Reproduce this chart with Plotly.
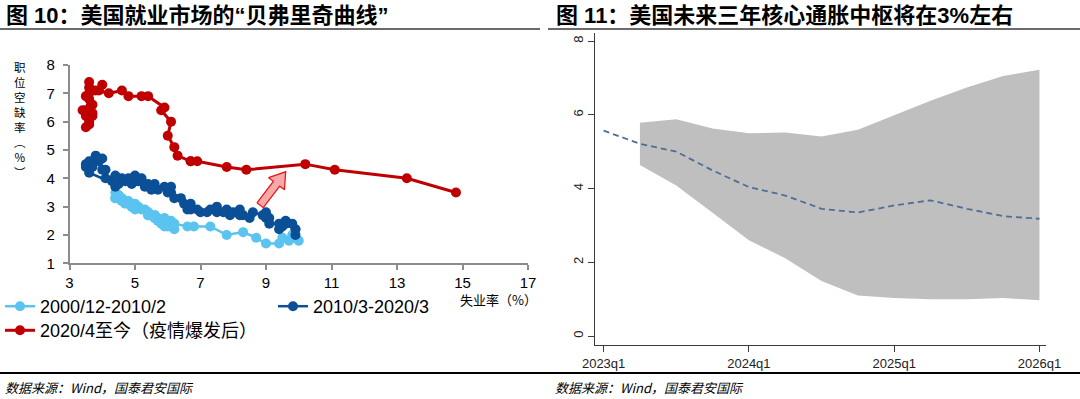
import math
import plotly.graph_objects as go

# ---------------- Left panel: Beveridge curve (unemployment %, job-openings rate %) ----------------
light_name = "2000/12-2010/2"
light_u = [4.4, 4.4, 4.5, 4.6, 4.8, 4.9, 5.0, 5.3, 5.4, 5.6, 5.7, 5.8, 5.9, 5.8, 5.7, 5.9, 6.0, 5.9,
           6.1, 6.2, 6.1, 6.0, 5.8, 5.7, 5.6, 5.6, 5.4, 5.4, 5.2, 5.1, 5.0, 4.9, 4.7, 4.6, 4.5, 4.4,
           4.6, 4.7, 4.9, 5.0, 5.4, 5.6, 5.8, 6.1, 6.2, 6.6, 6.8, 7.3, 7.8, 8.3, 8.7, 9.0, 9.4, 9.5,
           9.8, 9.9, 10.0, 9.7, 9.8]
light_v = [3.5, 3.3, 3.4, 3.2, 3.2, 3.0, 3.1, 2.9, 2.8, 2.7, 2.6, 2.5, 2.6, 2.4, 2.5, 2.3, 2.4, 2.4,
           2.3, 2.2, 2.4, 2.3, 2.5, 2.5, 2.6, 2.7, 2.7, 2.8, 2.9, 3.0, 3.0, 3.1, 3.2, 3.3, 3.4, 3.3,
           3.2, 3.1, 3.0, 2.9, 2.7, 2.6, 2.5, 2.5, 2.4, 2.3, 2.3, 2.3, 2.0, 2.1, 1.9, 1.7, 1.7, 1.9,
           1.9, 2.2, 1.8, 1.8, 2.0]

dark_name = "2010/3-2020/3"
dark_u = [9.9, 9.9, 9.6, 9.4, 9.5, 9.5, 9.6, 9.8, 9.4, 9.1, 9.0, 9.0, 9.1, 8.9, 8.6, 8.5, 8.3, 8.2,
          8.2, 8.0, 7.9, 7.8, 7.7, 7.5, 7.5, 7.3, 7.2, 7.0, 6.9, 6.7, 6.7, 6.6, 6.5, 6.4, 6.2, 6.1,
          6.1, 6.0, 5.9, 5.7, 5.6, 5.5, 5.4, 5.3, 5.2, 5.1, 5.0, 5.0, 4.9, 4.8, 4.7, 4.6, 4.5, 4.4,
          4.4, 4.3, 4.4, 4.1, 4.1, 4.0, 3.9, 4.0, 3.8, 3.8, 3.7, 3.6, 3.7, 3.5, 3.6, 3.5, 3.6, 4.4]
dark_v = [2.0, 2.2, 2.4, 2.2, 2.4, 2.3, 2.5, 2.4, 2.4, 2.4, 2.6, 2.8, 2.6, 2.7, 2.8, 2.6, 2.7, 2.9,
          2.7, 2.8, 2.7, 2.9, 2.8, 3.0, 2.8, 2.9, 2.8, 2.8, 2.9, 2.9, 3.1, 2.9, 3.1, 3.3, 3.3, 3.5,
          3.7, 3.5, 3.7, 3.6, 3.8, 3.6, 3.8, 3.7, 4.0, 3.9, 4.1, 3.9, 3.8, 4.0, 3.9, 4.0, 3.8, 4.0,
          3.7, 3.9, 4.1, 4.0, 4.3, 4.3, 4.6, 4.7, 4.8, 4.7, 4.6, 4.5, 4.4, 4.5, 4.6, 4.4, 4.2, 3.8]

red_name = "2020/4至今（疫情爆发后）"
red_u = [14.8, 13.3, 11.1, 10.2, 8.4, 7.8, 6.9, 6.7, 6.7, 6.3, 6.2, 6.0, 6.1, 5.8, 5.9, 5.4, 5.2,
         4.8, 4.6, 4.2, 3.9, 4.0, 3.8, 3.6, 3.6, 3.6, 3.5, 3.7, 3.6, 3.5, 3.5, 3.4, 3.6, 3.7, 3.6,
         3.5, 3.6, 3.7, 3.6]
red_v = [3.5, 4.0, 4.3, 4.5, 4.3, 4.4, 4.6, 4.6, 4.6, 4.8, 5.1, 5.5, 6.0, 6.4, 6.5, 6.9, 6.9,
         6.9, 7.1, 7.0, 7.1, 7.3, 7.1, 7.4, 7.2, 7.0, 6.9, 6.6, 6.8, 6.4, 6.2, 6.4, 6.1, 6.3, 6.0,
         5.8, 5.9, 6.2, 6.3]

x_ticks_left = [3, 5, 7, 9, 11, 13, 15, 17]
y_ticks_left = [1, 2, 3, 4, 5, 6, 7, 8]

# arrow (data units of left panel)
ARROW_FROM = (8.82, 3.05)
ARROW_TO = (9.60, 4.23)

# ---------------- Right panel: core inflation forecast fan ----------------
quarter_labels = ["2023q1", "2023q2", "2023q3", "2023q4", "2024q1", "2024q2", "2024q3", "2024q4",
                  "2025q1", "2025q2", "2025q3", "2025q4", "2026q1"]
median_path = [5.57, 5.21, 5.00, 4.49, 4.04, 3.81, 3.45, 3.35, 3.54, 3.68, 3.45, 3.25, 3.18]
band_quarters = quarter_labels[1:]
band_upper = [5.78, 5.88, 5.63, 5.50, 5.52, 5.41, 5.59, 5.99, 6.38, 6.74, 7.05, 7.22]
band_lower = [4.64, 4.08, 3.34, 2.60, 2.11, 1.49, 1.10, 1.03, 1.00, 1.00, 1.03, 0.97]
x_ticks_right = ["2023q1", "2024q1", "2025q1", "2026q1"]
y_ticks_right = [0, 2, 4, 6, 8]

# ---------------- styling ----------------
W, H = 1080, 399
LIGHT = "#5BC3F0"
DARK = "#0B4F96"
RED = "#C00000"
AXIS_GREY = "#8c8c8c"
LATIN = "Liberation Sans, Arial, Noto Sans CJK SC"
CJK = "Noto Sans CJK SC, Liberation Sans"

L_X0, L_X1 = 69.5, 528.0      # left plot pixel extents
L_Y0, L_Y1 = 65.0, 263.3
R_X0, R_X1 = 595.0, 1046.0
R_Y0, R_Y1 = 33.4, 345.0

def px(v):
    return v / W

def py(v):
    return 1 - v / H

qidx = {q: i for i, q in enumerate(quarter_labels)}

fig = go.Figure()

fig.add_trace(go.Scatter(x=light_u, y=light_v, name=light_name, mode="lines+markers",
                         line=dict(color=LIGHT, width=2.5), marker=dict(color=LIGHT, size=10),
                         xaxis="x", yaxis="y", legend="legend"))
fig.add_trace(go.Scatter(x=dark_u, y=dark_v, name=dark_name, mode="lines+markers",
                         line=dict(color=DARK, width=2.5), marker=dict(color=DARK, size=10),
                         xaxis="x", yaxis="y", legend="legend"))
fig.add_trace(go.Scatter(x=red_u, y=red_v, name=red_name, mode="lines+markers",
                         line=dict(color=RED, width=3), marker=dict(color=RED, size=10),
                         xaxis="x", yaxis="y", legend="legend2"))

# block arrow polygon built in screen-proportional space
sx = (L_X1 - L_X0) / (x_ticks_left[-1] - x_ticks_left[0])
sy = (L_Y1 - L_Y0) / (y_ticks_left[-1] - y_ticks_left[0])
p0 = (ARROW_FROM[0] * sx, ARROW_FROM[1] * sy)
p1 = (ARROW_TO[0] * sx, ARROW_TO[1] * sy)
dx, dy = p1[0] - p0[0], p1[1] - p0[1]
Ln = math.hypot(dx, dy)
ex, ey = dx / Ln, dy / Ln
nx, ny = -ey, ex
shaft, head_w, head_l = 4.0, 10.0, 15.0
pts = [
    (p0[0] + nx * shaft, p0[1] + ny * shaft),
    (p0[0] + ex * (Ln - head_l) + nx * shaft, p0[1] + ey * (Ln - head_l) + ny * shaft),
    (p0[0] + ex * (Ln - head_l) + nx * head_w, p0[1] + ey * (Ln - head_l) + ny * head_w),
    p1,
    (p0[0] + ex * (Ln - head_l) - nx * head_w, p0[1] + ey * (Ln - head_l) - ny * head_w),
    (p0[0] + ex * (Ln - head_l) - nx * shaft, p0[1] + ey * (Ln - head_l) - ny * shaft),
    (p0[0] - nx * shaft, p0[1] - ny * shaft),
]
pts.append(pts[0])
fig.add_trace(go.Scatter(x=[p[0] / sx for p in pts], y=[p[1] / sy for p in pts], mode="lines",
                         fill="toself", fillcolor="#F7A9A9", line=dict(color="#E41A1A", width=1.3),
                         showlegend=False, hoverinfo="skip", xaxis="x", yaxis="y"))

# fan band
bx = [qidx[q] for q in band_quarters]
fig.add_trace(go.Scatter(x=bx + bx[::-1], y=band_upper + band_lower[::-1], mode="lines",
                         fill="toself", fillcolor="#BFBFBF", line=dict(width=0),
                         showlegend=False, hoverinfo="skip", xaxis="x2", yaxis="y2"))
fig.add_trace(go.Scatter(x=[qidx[q] for q in quarter_labels], y=median_path, mode="lines",
                         line=dict(color="#4D6F96", width=1.8, dash="6px,4px"),
                         showlegend=False, xaxis="x2", yaxis="y2"))

axis_common = dict(showgrid=False, zeroline=False, showline=True, ticks="outside", automargin=False)

annotations = []
# titles
annotations.append(dict(text="<b>图 10：美国就业市场的“贝弗里奇曲线”</b>", x=px(4), y=py(15.5),
                        xref="paper", yref="paper", xanchor="left", yanchor="middle", showarrow=False,
                        font=dict(family=LATIN, size=22, color="#000000")))
annotations.append(dict(text="<b>图 11：美国未来三年核心通胀中枢将在3%左右</b>", x=px(554), y=py(15.5),
                        xref="paper", yref="paper", xanchor="left", yanchor="middle", showarrow=False,
                        font=dict(family=LATIN, size=22, color="#000000")))
# sources
for sx0 in (3, 553):
    annotations.append(dict(text="<i>数据来源：Wind，国泰君安国际</i>", x=px(sx0), y=py(387),
                            xref="paper", yref="paper", xanchor="left", yanchor="middle", showarrow=False,
                            font=dict(family=CJK, size=13, color="#000000")))
# axis titles (left)
annotations.append(dict(text="失业率（%）", x=px(538), y=py(299), xref="paper", yref="paper",
                        xanchor="right", yanchor="middle", showarrow=False, borderpad=0,
                        font=dict(family=CJK, size=13, color="#000000")))
ylab_chars = ["职", "位", "空", "缺", "率", "︵", "%", "︶"]
annotations.append(dict(text="<br>".join(ylab_chars), x=px(20), y=py(119), xref="paper", yref="paper",
                        xanchor="center", yanchor="middle", showarrow=False,
                        font=dict(family=CJK, size=11.5, color="#000000")))

shapes = [
    dict(type="line", xref="paper", yref="paper", x0=0, x1=px(540), y0=py(29), y1=py(29),
         line=dict(color="#3a3a3a", width=1.6)),
    dict(type="line", xref="paper", yref="paper", x0=px(548), x1=1, y0=py(29), y1=py(29),
         line=dict(color="#3a3a3a", width=1.6)),
    dict(type="line", xref="paper", yref="paper", x0=0, x1=1, y0=py(373), y1=py(373),
         line=dict(color="#000000", width=2)),
]

fig.update_layout(
    width=W, height=H, margin=dict(l=0, r=0, t=0, b=0, autoexpand=False),
    paper_bgcolor="white", plot_bgcolor="white",
    xaxis=dict(domain=[px(L_X0), px(L_X1)], range=[3, 17], tickvals=x_ticks_left,
               linecolor=AXIS_GREY, linewidth=1.5, tickcolor=AXIS_GREY, ticklen=5, tickwidth=1.5,
               tickfont=dict(family=LATIN, size=15, color="#000000"), anchor="y", **axis_common),
    yaxis=dict(domain=[py(L_Y1), py(L_Y0)], range=[1, 8], tickvals=y_ticks_left,
               linecolor=AXIS_GREY, linewidth=1.5, tickcolor=AXIS_GREY, ticklen=5, tickwidth=1.5,
               ticklabelstandoff=5,
               tickfont=dict(family=LATIN, size=15, color="#000000"), anchor="x", **axis_common),
    xaxis2=dict(domain=[px(R_X0), px(R_X1)], range=[-0.237, 12.18],
                tickvals=[qidx[q] for q in x_ticks_right], ticktext=x_ticks_right,
                linecolor="#3c3c3c", linewidth=1.2, tickcolor="#3c3c3c", ticklen=6, tickwidth=1,
                tickfont=dict(family=LATIN, size=13, color="#222222"), anchor="y2", **axis_common),
    yaxis2=dict(domain=[py(R_Y1), py(R_Y0)], range=[-0.244, 8.206], tickvals=y_ticks_right,
                tickangle=-90,
                linecolor="#3c3c3c", linewidth=1.2, tickcolor="#3c3c3c", ticklen=6, tickwidth=1,
                tickfont=dict(family=LATIN, size=13, color="#222222"), anchor="x2", **axis_common),
    legend=dict(orientation="h", x=0.0, xanchor="left", y=py(306.5), yanchor="middle",
                font=dict(family=LATIN, size=18, color="#000000"), bgcolor="rgba(0,0,0,0)",
                entrywidth=228, itemwidth=30, tracegroupgap=0),
    legend2=dict(orientation="h", x=0.0, xanchor="left", y=py(330.6), yanchor="middle",
                 font=dict(family=LATIN, size=18, color="#000000"), bgcolor="rgba(0,0,0,0)",
                 itemwidth=30),
    annotations=annotations,
    shapes=shapes,
    showlegend=True,
)

fig.write_html("out.html", config={"displayModeBar": False},
               post_script="document.body.style.margin='0';document.body.style.overflow='hidden';")
